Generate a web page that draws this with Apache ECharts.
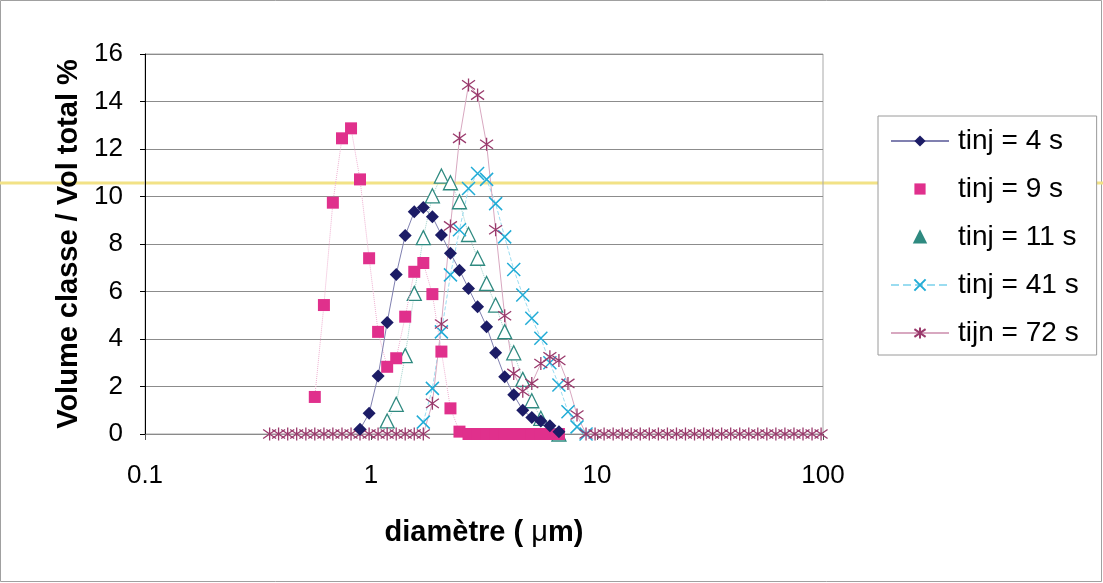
<!DOCTYPE html>
<html>
<head>
<meta charset="utf-8">
<script src="https://cdn.jsdelivr.net/npm/echarts@6/dist/echarts.min.js"></script>
<style>
html,body{margin:0;padding:0;background:#fff;}
#chart{width:1103px;height:583px;}
</style>
</head>
<body>
<div id="chart"></div>
<script>
// Shared diameter classes (µm), log-spaced
const diam = [0.356, 0.390, 0.428, 0.469, 0.515, 0.564, 0.619, 0.678, 0.744, 0.816, 0.894,
  0.981, 1.075, 1.179, 1.293, 1.417, 1.554, 1.704, 1.869, 2.049, 2.247, 2.463, 2.701, 2.962, 3.247,
  3.560, 3.904, 4.281, 4.694, 5.146, 5.643, 6.187, 6.784, 7.439, 8.157, 8.943,
  9.806, 10.75, 11.79, 12.93, 14.17, 15.54, 17.04, 18.69, 20.49, 22.47, 24.63, 27.01, 29.62, 32.47,
  35.60, 39.04, 42.81, 46.94, 51.46, 56.43, 61.87, 67.84, 74.39, 81.57, 89.43, 98.06];

const seriesNames = ['tinj = 4 s', 'tinj = 9 s', 'tinj = 11 s', 'tinj = 41 s', 'tijn = 72 s'];

// start index into diam for each series
const start4 = 10, start9 = 5, start11 = 13, start41 = 17, start72 = 0;

const vol4 = [0.2, 0.87, 2.44, 4.7, 6.72, 8.36, 9.36, 9.54, 9.15, 8.38, 7.61, 6.9, 6.13, 5.36,
  4.52, 3.42, 2.41, 1.65, 1.0, 0.7, 0.55, 0.35, 0.1];
const vol9 = [1.56, 5.43, 9.74, 12.45, 12.87, 10.72, 7.4, 4.3, 2.83, 3.19, 4.94, 6.83, 7.2, 5.89,
  3.47, 1.08, 0.1, 0, 0, 0, 0, 0, 0, 0, 0, 0, 0, 0];
const vol11 = [0.55, 1.25, 3.3, 5.92, 8.27, 10.03, 10.86, 10.58, 9.78, 8.4, 7.4, 6.34, 5.43, 4.31,
  3.42, 2.3, 1.4, 0.66, 0.15, 0];
const vol41 = [0.5, 1.92, 4.3, 6.7, 8.6, 10.34, 10.97, 10.72, 9.7, 8.3, 6.93, 5.85, 4.87, 4.03,
  3.0, 2.06, 0.94, 0.3, 0];
const vol72 = [0, 0, 0, 0, 0, 0, 0, 0, 0, 0, 0, 0, 0, 0, 0, 0, 0, 0,
  1.29, 4.63, 8.76, 12.45, 14.7, 14.27, 12.2, 8.6, 4.98, 2.55, 1.8, 2.13, 2.97, 3.25, 3.1, 2.13, 0.8,
  0, 0, 0, 0, 0, 0, 0, 0, 0, 0, 0, 0, 0, 0, 0, 0, 0, 0, 0, 0, 0, 0, 0, 0, 0, 0, 0];

const xTickLabels = {'0.1': '0.1', '1': '1', '10': '10', '100': '100'};
const yTicks = {min: 0, max: 16, interval: 2};

function pairs(start, vals) {
  return vals.map((v, i) => [diam[start + i], v]);
}

const colors = {
  s4: '#1c1c66', s9: '#e0308c', s11: '#2f8a80', s41: '#22acd6', s72: '#9a3a6c'
};

const crossPath = 'path://M0,0L10,10M10,0L0,10';
const starPath = 'path://M0,1.5L10,8.5M0,8.5L10,1.5M5,0L5,10';

const chart = echarts.init(document.getElementById('chart'), null, {renderer: 'canvas'});
const font = 'Liberation Sans, Arial, sans-serif';

chart.setOption({
  backgroundColor: '#fff',
  animation: false,
  textStyle: {fontFamily: font},
  grid: {left: 145, right: 280, top: 54, bottom: 149, show: true, borderColor: '#a8a8a8', borderWidth: 1, backgroundColor: 'transparent'},
  graphic: [
    {type: 'rect', z: -10, shape: {x: 0.5, y: 0.5, width: 1101, height: 581}, style: {fill: 'none', stroke: '#a0a0a0', lineWidth: 1}},
    {type: 'line', z: -5, shape: {x1: 0, y1: 183, x2: 1103, y2: 183}, style: {stroke: '#f2e286', lineWidth: 3}}
  ],
  xAxis: {
    type: 'log', logBase: 10, min: 0.1, max: 100,
    name: '{b|diamètre ( }{m|μ}{b|m)}',
    nameLocation: 'middle', nameGap: 84,
    nameTextStyle: {
      rich: {
        b: {fontSize: 29, fontWeight: 'bold', color: '#000', fontFamily: font},
        m: {fontSize: 29, fontWeight: 'normal', color: '#000', fontFamily: font}
      }
    },
    axisLine: {show: true, lineStyle: {color: '#8a8a8a', width: 1}},
    axisTick: {show: true, length: 6, lineStyle: {color: '#555'}},
    minorTick: {show: false},
    splitLine: {show: false},
    axisLabel: {
      fontSize: 26, color: '#000', margin: 29, fontFamily: font,
      formatter: v => xTickLabels[String(+v.toPrecision(3))] || String(v)
    }
  },
  yAxis: {
    type: 'value', min: yTicks.min, max: yTicks.max, interval: yTicks.interval,
    name: 'Volume classe / Vol total %',
    nameLocation: 'middle', nameGap: 61,
    nameTextStyle: {fontSize: 29, fontWeight: 'bold', color: '#000', fontFamily: font},
    axisLine: {show: true, lineStyle: {color: '#000', width: 1}},
    axisTick: {show: true, length: 5, lineStyle: {color: '#000'}},
    splitLine: {show: true, lineStyle: {color: '#8c8c8c', width: 1}},
    axisLabel: {fontSize: 26, color: '#000', margin: 22, fontFamily: font}
  },
  legend: {
    orient: 'vertical', left: 878, top: 116,
    padding: [11, 18, 8, 12],
    itemWidth: 58, itemHeight: 14, itemGap: 20,
    borderColor: '#9a9a9a', borderWidth: 1, backgroundColor: '#fff',
    textStyle: {fontSize: 28, color: '#000', fontFamily: font, lineHeight: 26, padding: [0, 0, 0, 4]},
    data: [
      {name: seriesNames[0]},
      {name: seriesNames[1], lineStyle: {opacity: 0}},
      {name: seriesNames[2], lineStyle: {opacity: 0}, itemStyle: {color: colors.s11, borderColor: colors.s11}},
      {name: seriesNames[3]},
      {name: seriesNames[4]}
    ]
  },
  series: [
    {
      name: seriesNames[0], type: 'line', data: pairs(start4, vol4),
      symbol: 'diamond', symbolSize: 13, z: 5,
      itemStyle: {color: colors.s4},
      lineStyle: {color: '#8080b0', width: 1}
    },
    {
      name: seriesNames[1], type: 'line', data: pairs(start9, vol9),
      symbol: 'rect', symbolSize: 12, z: 4,
      itemStyle: {color: colors.s9},
      lineStyle: {color: '#eeb0d0', width: 1, type: 'dotted'}
    },
    {
      name: seriesNames[2], type: 'line', data: pairs(start11, vol11),
      symbol: 'triangle', symbolSize: 14, z: 3,
      itemStyle: {color: '#fff', borderColor: colors.s11, borderWidth: 1.3},
      lineStyle: {color: '#9ccfc8', width: 1, type: 'dotted'}
    },
    {
      name: seriesNames[3], type: 'line', data: pairs(start41, vol41),
      symbol: crossPath, symbolSize: 13, z: 3,
      itemStyle: {color: 'rgba(0,0,0,0)', borderColor: colors.s41, borderWidth: 1.5},
      lineStyle: {color: '#9adcf0', width: 1, type: 'dashed'}
    },
    {
      name: seriesNames[4], type: 'line', data: pairs(start72, vol72),
      symbol: starPath, symbolSize: 13, z: 3,
      itemStyle: {color: 'rgba(0,0,0,0)', borderColor: colors.s72, borderWidth: 1.3},
      lineStyle: {color: '#d8a8c0', width: 1}
    }
  ]
});
</script>
</body>
</html>
